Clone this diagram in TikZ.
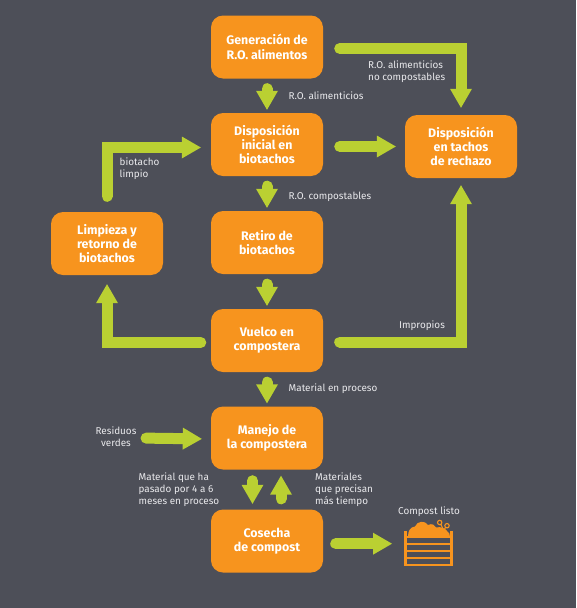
\documentclass[tikz,border=0pt]{standalone}
\usepackage{fontspec}
\setmainfont{Fira Sans}
\usetikzlibrary{arrows.meta}
\definecolor{fondo}{HTML}{4D4F58}
\definecolor{naranja}{HTML}{F7941E}
\definecolor{verde}{HTML}{BAD032}
\definecolor{claro}{HTML}{E9E9EC}
\tikzset{
  caja/.style={fill=naranja, rounded corners=12pt, minimum width=112pt, minimum height=63pt,
    inner sep=0pt, align=center, text=white, font=\fontsize{12.4}{14.2}\selectfont\bfseries},
  nota/.style={text=claro, inner sep=0pt, font=\fontsize{9.9}{12.2}\selectfont},
  flujo/.style={draw=verde, line width=11pt, line cap=round, miter limit=10,
    -{Triangle[width=22pt,length=19pt,line width=0pt]}},
}
\begin{document}
\begin{tikzpicture}[x=1pt, y=-1pt]

    % --- 1. fondo ---
    \fill[fondo] (0, 0) rectangle (576, 608);

    % --- 2. cajas ---
    \node[caja] (generacion) at (267, 47) {Generación de\\R.O. alimentos};
    \node[caja] (inicial) at (267, 144.5) {Disposición\\inicial en\\biotachos};
    \node[caja] (retiro) at (267, 242.5) {Retiro de\\biotachos};
    \node[caja] (vuelco) at (267, 340.5) {Vuelco en\\compostera};
    \node[caja] (manejo) at (267, 438) {Manejo de\\la compostera};
    \node[caja] (cosecha) at (267, 541) {Cosecha\\de compost};
    \node[caja] (limpieza) at (107, 243.5) {Limpieza y\\retorno de\\biotachos};
    \node[caja] (rechazo) at (461, 146.5) {Disposición\\en tachos\\de rechazo};

    % --- 3. textos ---
    \node[nota, anchor=west] (alimenticios) at (288.5, 96) {R.O. alimenticios};
    \node[nota, anchor=west, align=left] (nocompost) at (368, 71.5) {R.O. alimenticios\\no compostables};
    \node[nota, anchor=west] (compostables) at (288.5, 196.5) {R.O. compostables};
    \node[nota, anchor=west, align=left] (limpio) at (119.5, 168.5) {biotacho\\limpio};
    \node[nota, anchor=west] (impropios) at (399, 325.5) {Impropios};
    \node[nota, anchor=west] (proceso) at (288.5, 388.5) {Material en proceso};
    \node[nota, anchor=center, align=center] (residuos) at (116, 437) {Residuos\\verdes};
    \node[nota, anchor=west, align=left] (meses) at (138.5, 489.5) {Material que ha\\pasado por 4 a 6\\meses en proceso};
    \node[nota, anchor=west, align=left] (tiempo) at (315, 489.5) {Materiales\\que precisan\\más tiempo};
    \node[nota, anchor=center] (listo) at (429, 511.5) {Compost listo};

    % --- 4. flechas ---
    \draw[flujo, shorten <=10pt, shorten >=3pt] (generacion.south) -- (inicial.north);
    \draw[flujo, shorten <=10pt, shorten >=3pt] (inicial.south) -- (retiro.north);
    \draw[flujo, shorten <=10pt, shorten >=3pt] (retiro.south) -- (vuelco.north);
    \draw[flujo, shorten <=10pt, shorten >=3pt] (vuelco.south) -- (manejo.north);
    \draw[flujo, shorten <=16.5pt, shorten >=7pt] ([yshift=-1.5pt]generacion.east) -| (rechazo.north);
    \draw[flujo, shorten <=16.5pt, shorten >=9pt] (inicial.east |- rechazo.west) -- (rechazo.west);
    \draw[flujo, shorten <=16.5pt, shorten >=7pt] ([yshift=-1.5pt]vuelco.east) -| (rechazo.south);
    \draw[flujo, shorten <=10pt, shorten >=9pt] ([yshift=-2pt]vuelco.west) -| (limpieza.south);
    \draw[flujo, shorten <=15.5pt, shorten >=10pt] (limpieza.north) |- ([yshift=-3pt]inicial.west);
    \draw[flujo, shorten <=9.5pt, shorten >=9pt] ([yshift=-1pt]residuos.east) -- ([yshift=-1pt]manejo.west);
    \draw[flujo, shorten <=11pt, shorten >=5.5pt] ([xshift=-14.5pt]manejo.south) -- ([xshift=-14.5pt]cosecha.north);
    \draw[flujo, shorten <=10.5pt, shorten >=6pt] ([xshift=14pt]cosecha.north) -- ([xshift=14pt]manejo.south);
    \coordinate (tacho) at (404, 543.7);
    \draw[flujo, shorten <=12.5pt, shorten >=12pt] ([yshift=-2.7pt]cosecha.east) -- (tacho);

    % --- 5. tacho de compost ---
    \fill[naranja] (408, 537) .. controls (408, 531) and (410, 527) .. (415, 526.5)
      .. controls (417, 521) and (425, 520) .. (428, 525)
      .. controls (432, 523) and (435, 525) .. (436, 527.5)
      .. controls (441, 526) and (446, 529) .. (447, 531)
      .. controls (449, 532) and (450, 534) .. (450, 537) -- cycle;
    \draw[naranja, line width=1.1pt] (439.7, 522.5) circle (2.2pt) (447, 525.7) circle (2.2pt)
      (441, 524.5) -- (442.5, 528) (445.5, 527.5) -- (444, 530);
    \draw[naranja, line width=2.2pt] (405.5, 531) -- (405.5, 566) (451.4, 531) -- (451.4, 566);
    \draw[naranja, line width=2pt] (405, 537) -- (452, 537) (405, 544) -- (452, 544)
      (405, 551) -- (452, 551) (405, 558) -- (452, 558) (404.4, 565) -- (452.5, 565);

\end{tikzpicture}
\end{document}
